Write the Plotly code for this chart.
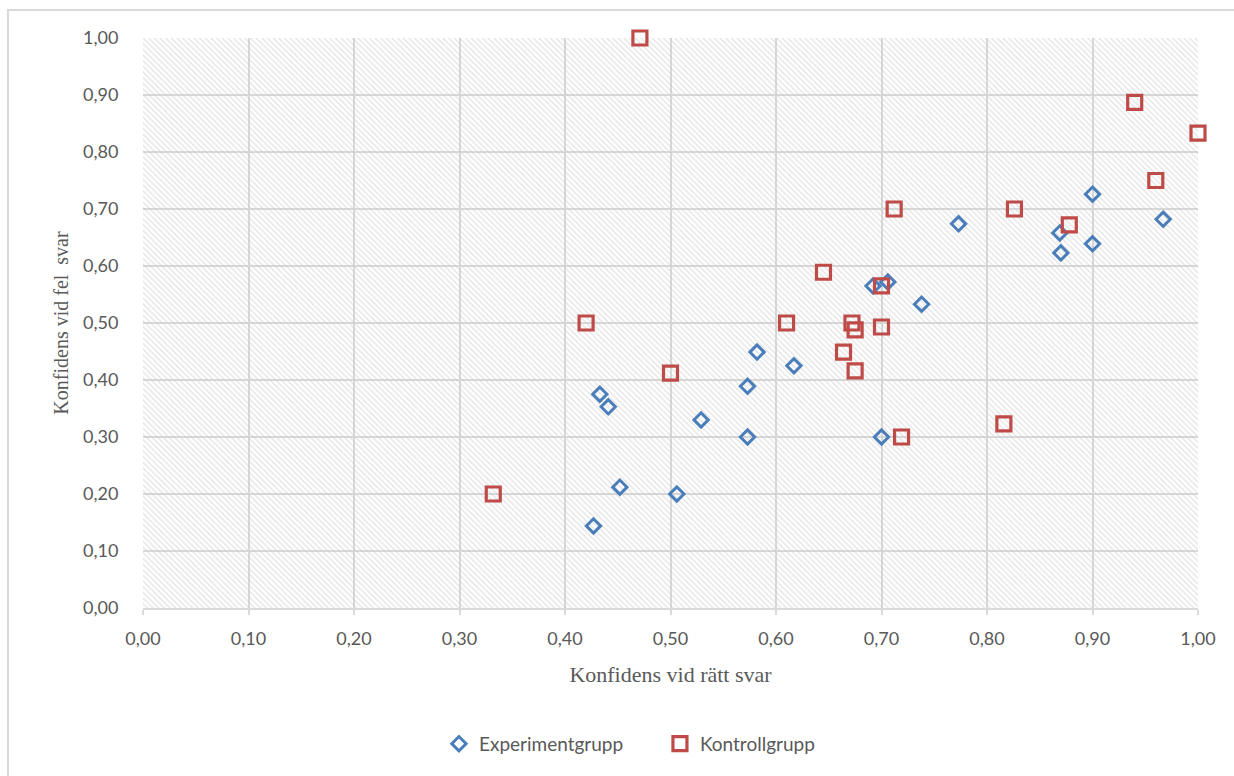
import plotly.graph_objects as go

# Konfidens vid rätt svar (x) och vid fel svar (y) per deltagare
exp_x = [0.433, 0.441, 0.452, 0.427, 0.506, 0.529, 0.573, 0.582, 0.573, 0.617,
         0.692, 0.706, 0.738, 0.700, 0.773, 0.869, 0.870, 0.900, 0.900, 0.967]
exp_y = [0.375, 0.353, 0.212, 0.144, 0.200, 0.330, 0.389, 0.449, 0.300, 0.425,
         0.565, 0.572, 0.533, 0.300, 0.674, 0.658, 0.623, 0.726, 0.639, 0.682]

ctl_x = [0.471, 0.940, 1.000, 0.960, 0.712, 0.826, 0.878, 0.645, 0.700, 0.420,
         0.610, 0.672, 0.675, 0.700, 0.664, 0.675, 0.500, 0.719, 0.816, 0.332]
ctl_y = [1.000, 0.887, 0.833, 0.750, 0.700, 0.700, 0.672, 0.589, 0.565, 0.500,
         0.500, 0.500, 0.488, 0.493, 0.449, 0.416, 0.412, 0.300, 0.323, 0.200]

tick_vals = [i / 10 for i in range(11)]

GRID = "#d9d9d9"
TEXT = "#595959"
BLUE = "#4a7ebb"
RED = "#be4b48"
SERIF = "'Liberation Serif', 'Times New Roman', serif"

fig = go.Figure()

# Hatched plot-area background (transparent between stripes so the grid shows)
fig.add_trace(go.Scatter(
    x=[0, 1, 1, 0, 0], y=[0, 0, 1, 1, 0],
    mode="lines", line=dict(width=0),
    fill="toself", fillcolor="rgba(0,0,0,0)",
    fillpattern=dict(shape="\\", fgcolor="#c4c4c4", bgcolor="rgba(0,0,0,0)",
                     size=4, solidity=0.3),
    hoverinfo="skip", showlegend=False,
))

fig.add_trace(go.Scatter(
    x=exp_x, y=exp_y, mode="markers", name="Experimentgrupp",
    marker=dict(symbol="diamond-open", size=11, color=BLUE,
                line=dict(width=3, color=BLUE)),
    cliponaxis=False,
))
fig.add_trace(go.Scatter(
    x=ctl_x, y=ctl_y, mode="markers", name="Kontrollgrupp",
    marker=dict(symbol="square-open", size=14, color=RED,
                line=dict(width=3.2, color=RED)),
    cliponaxis=False,
))

fig.update_layout(
    width=1234, height=776,
    margin=dict(l=143, r=36, t=38, b=168),
    paper_bgcolor="white", plot_bgcolor="white",
    separators=", ",
    font=dict(family="Lato, 'Open Sans', sans-serif", size=18, color=TEXT),
    showlegend=True,
    legend=dict(orientation="h", x=0.49, xanchor="center", y=-0.205,
                yanchor="top", font=dict(size=19, color=TEXT),
                itemwidth=30, tracegroupgap=0,
                entrywidth=176, entrywidthmode="pixels"),
    shapes=[dict(type="rect", xref="paper", yref="paper",
                 x0=-0.128, x1=1.05, y0=-0.35, y1=1.049,
                 line=dict(color=GRID, width=2), fillcolor="rgba(0,0,0,0)",
                 layer="below")],
)

fig.update_xaxes(
    range=[0, 1], tickvals=tick_vals, tickformat=".2f",
    showgrid=True, gridcolor=GRID, gridwidth=2,
    showline=True, linecolor=GRID, linewidth=2,
    ticks="outside", ticklen=5, tickcolor=GRID, tickwidth=2,
    ticklabelstandoff=8,
    zeroline=False, tickfont=dict(size=18, color=TEXT),
    title=dict(text="Konfidens vid rätt svar", standoff=19,
               font=dict(family=SERIF, size=22, color=TEXT)),
)
fig.update_yaxes(
    range=[0, 1], tickvals=tick_vals, tickformat=".2f",
    showgrid=True, gridcolor=GRID, gridwidth=2,
    showline=False, zeroline=False,
    ticks="outside", ticklen=20, tickcolor="rgba(0,0,0,0)",
    tickfont=dict(size=18, color=TEXT),
    title=dict(text="Konfidens vid fel  svar", standoff=8,
               font=dict(family=SERIF, size=20, color=TEXT)),
)

fig.write_html("out.html")
